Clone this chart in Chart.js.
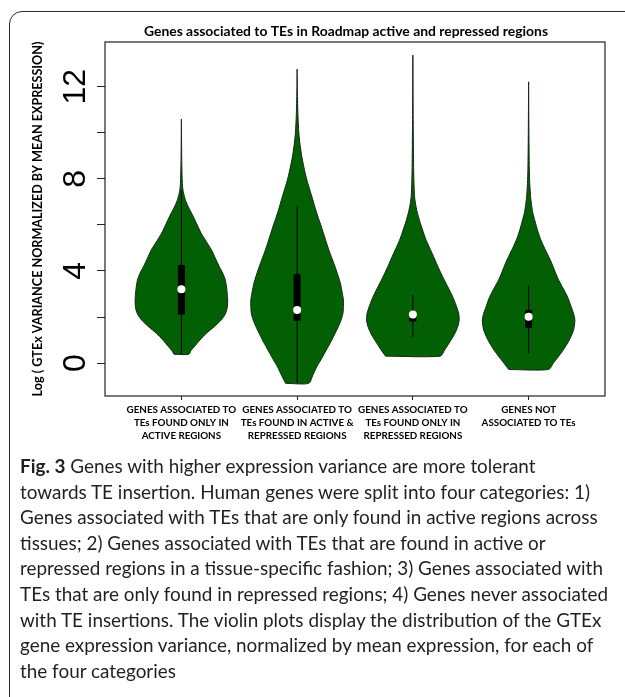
<!DOCTYPE html>
<html>
<head>
<meta charset="utf-8">
<script src="https://cdn.jsdelivr.net/npm/chart.js@4.4.1/dist/chart.umd.min.js"></script>
<style>
  html, body { margin: 0; padding: 0; background: #fff; width: 625px; height: 697px; overflow: hidden; }
  #frame { position: absolute; left: 9px; top: 11px; width: 700px; height: 800px;
           border: 1.6px solid #2b2b2b; border-radius: 13px; }
  #wrap { position: absolute; left: 0; top: 0; width: 625px; height: 455px; }
  #caption { position: absolute; left: 20px; top: 453px; width: 620px;
             font-family: Lato, "Open Sans", sans-serif; font-size: 18.9px; line-height: 25.6px;
             color: #231f20; white-space: nowrap; }
  #caption b { font-weight: bold; }
</style>
</head>
<body>
<div id="frame"></div>
<div id="wrap"><canvas id="chart"></canvas></div>
<div id="caption">
  <div><b>Fig. 3</b> Genes with higher expression variance are more tolerant</div>
  <div>towards TE insertion. Human genes were split into four categories: 1)</div>
  <div>Genes associated with TEs that are only found in active regions across</div>
  <div>tissues; 2) Genes associated with TEs that are found in active or</div>
  <div>repressed regions in a tissue-specific fashion; 3) Genes associated with</div>
  <div>TEs that are only found in repressed regions; 4) Genes never associated</div>
  <div>with TE insertions. The violin plots display the distribution of the GTEx</div>
  <div>gene expression variance, normalized by mean expression, for each of</div>
  <div>the four categories</div>
</div>
<script>
// Category labels (one array of lines per violin)
const categories = [
  ['GENES ASSOCIATED TO', 'TEs FOUND ONLY IN', 'ACTIVE REGIONS'],
  ['GENES ASSOCIATED TO', 'TEs FOUND IN ACTIVE &', 'REPRESSED REGIONS'],
  ['GENES ASSOCIATED TO', 'TEs FOUND ONLY IN', 'REPRESSED REGIONS'],
  ['GENES NOT', 'ASSOCIATED TO TEs']
];

// Kernel density outlines: log variance levels (bottom to top) and relative density
const activeOnlyY       = [0.38, 0.55, 0.71, 1.00, 1.29, 1.58, 1.87, 2.10, 2.30, 2.65, 3.03, 3.30, 3.60, 3.90, 4.18, 4.55, 4.91, 5.27, 5.63, 6.00, 6.35, 6.70, 7.08, 7.45, 7.80, 8.80, 10.59];
const activeOnlyDensity = [0.16, 0.21, 0.28, 0.40, 0.54, 0.71, 0.86, 0.94, 0.98, 1.00, 0.99, 0.975, 0.95, 0.895, 0.82, 0.735, 0.65, 0.54, 0.43, 0.34, 0.26, 0.17, 0.086, 0.04, 0.02, 0.008, 0];

const mixedY       = [-0.88, -0.52, -0.16, 0.13, 0.42, 0.71, 1.00, 1.29, 1.58, 1.87, 2.16, 2.45, 2.74, 3.10, 3.46, 3.82, 4.18, 4.55, 4.91, 5.27, 5.63, 6.00, 6.35, 6.70, 7.08, 7.45, 7.80, 8.15, 8.52, 9.00, 9.50, 9.97, 10.70, 11.42, 12.10, 12.76];
const mixedDensity = [0.25, 0.34, 0.425, 0.51, 0.59, 0.67, 0.75, 0.82, 0.89, 0.95, 0.99, 1.00, 1.00, 0.97, 0.935, 0.88, 0.82, 0.752, 0.685, 0.627, 0.57, 0.51, 0.45, 0.395, 0.34, 0.285, 0.232, 0.185, 0.145, 0.098, 0.062, 0.038, 0.019, 0.009, 0.003, 0];

const repressedOnlyY       = [0.30, 0.58, 0.86, 1.15, 1.43, 1.65, 1.87, 2.16, 2.50, 2.88, 3.25, 3.60, 3.95, 4.33, 4.70, 5.05, 5.40, 5.78, 6.15, 6.50, 6.85, 7.22, 7.90, 8.67, 10.80, 13.37];
const repressedOnlyDensity = [0.59, 0.69, 0.78, 0.87, 0.94, 0.98, 1.00, 0.99, 0.935, 0.86, 0.77, 0.68, 0.595, 0.51, 0.43, 0.35, 0.275, 0.21, 0.15, 0.10, 0.063, 0.037, 0.022, 0.015, 0.006, 0];

const notAssociatedY       = [-0.28, 0.00, 0.27, 0.56, 0.86, 1.15, 1.43, 1.65, 1.87, 2.16, 2.50, 2.88, 3.25, 3.60, 3.95, 4.33, 4.70, 5.05, 5.40, 5.78, 6.15, 6.50, 6.85, 7.22, 7.80, 8.38, 10.20, 12.21];
const notAssociatedDensity = [0.43, 0.535, 0.64, 0.745, 0.84, 0.915, 0.97, 0.99, 1.00, 0.97, 0.91, 0.84, 0.745, 0.65, 0.575, 0.50, 0.415, 0.33, 0.255, 0.19, 0.14, 0.093, 0.065, 0.043, 0.025, 0.015, 0.006, 0];

// Box-plot summaries per category
const whiskerLow  = [0.38, -0.88, 1.12, 0.42];
const quartile1   = [2.11, 1.84, 1.81, 1.53];
const medians     = [3.21, 2.30, 2.11, 2.01];
const quartile3   = [4.26, 3.86, 2.26, 2.30];
const whiskerHigh = [7.50, 6.82, 2.95, 3.39];

// Axis ticks
const yTickMarks  = [0, 2, 4, 6, 8, 10, 12];
const yTickLabels = [0, 4, 8, 12];

const chartTitle = 'Genes associated to TEs in Roadmap active and repressed regions';
const yAxisTitle = 'Log ( GTEx VARIANCE NORMALIZED BY MEAN EXPRESSION)';

const violins = [
  [activeOnlyY, activeOnlyDensity],
  [mixedY, mixedDensity],
  [repressedOnlyY, repressedOnlyDensity],
  [notAssociatedY, notAssociatedDensity]
];

const HALF_WIDTH = 0.4;   // x-units at peak density
const GREEN = '#035f03';

// Closed outline: up the left side, down the right side
function outline(center, ys, dens) {
  const pts = [];
  for (let i = 0; i < ys.length; i++) pts.push({ x: center - dens[i] * HALF_WIDTH, y: ys[i] });
  for (let i = ys.length - 1; i >= 0; i--) pts.push({ x: center + dens[i] * HALF_WIDTH, y: ys[i] });
  pts.push({ x: pts[0].x, y: pts[0].y });
  return pts;
}

const datasets = [];
violins.forEach(([ys, dens], i) => {
  datasets.push({
    data: outline(i + 1, ys, dens),
    showLine: true, fill: 'shape', tension: 0.25,
    backgroundColor: GREEN, borderColor: '#142814', borderWidth: 1,
    pointRadius: 0, order: 4
  });
});
whiskerLow.forEach((lo, i) => {
  datasets.push({
    data: [{ x: i + 1, y: lo }, { x: i + 1, y: whiskerHigh[i] }],
    showLine: true, borderColor: '#000', borderWidth: 1, pointRadius: 0, order: 3
  });
});
quartile1.forEach((q, i) => {
  datasets.push({
    data: [{ x: i + 1, y: q }, { x: i + 1, y: quartile3[i] }],
    showLine: true, borderColor: '#000', borderWidth: 7, borderCapStyle: 'butt',
    pointRadius: 0, order: 2
  });
});
datasets.push({
  data: medians.map((m, i) => ({ x: i + 1, y: m })),
  showLine: false, pointRadius: 4, pointBackgroundColor: '#fff', pointBorderWidth: 0, order: 1
});

// Plot frame, title and rotated y labels
const decorations = {
  id: 'decorations',
  afterDraw(chart) {
    const { ctx, chartArea: a, scales } = chart;
    ctx.save();
    ctx.strokeStyle = '#222';
    ctx.lineWidth = 1.2;
    ctx.strokeRect(a.left, a.top, a.right - a.left, a.bottom - a.top);

    ctx.fillStyle = '#000';
    ctx.font = 'bold 13.9px Lato';
    ctx.textAlign = 'center';
    ctx.textBaseline = 'middle';
    ctx.fillText(chartTitle, 346, 32);

    ctx.font = '32px "Liberation Sans"';
    ctx.textBaseline = 'alphabetic';
    yTickLabels.forEach(v => {
      ctx.save();
      ctx.translate(84.5, scales.y.getPixelForValue(v));
      ctx.rotate(-Math.PI / 2);
      ctx.fillText(String(v), 0, 0);
      ctx.restore();
    });
    ctx.restore();
  }
};

new Chart(document.getElementById('chart'), {
  type: 'scatter',
  data: { datasets },
  options: {
    responsive: true,
    maintainAspectRatio: false,
    animation: false,
    layout: { padding: { left: 0, right: 20, top: 42, bottom: 5 } },
    plugins: { legend: { display: false }, tooltip: { enabled: false }, title: { display: false } },
    scales: {
      x: {
        type: 'linear', min: 0.34, max: 4.66,
        afterBuildTicks: s => { s.ticks = categories.map((c, i) => ({ value: i + 1 })); },
        afterFit: s => { s.height = 54; },
        border: { display: false },
        grid: { drawOnChartArea: false, drawTicks: true, tickLength: 4, color: '#222' },
        ticks: {
          callback: v => categories[v - 1],
          maxRotation: 0, minRotation: 0, autoSkip: false, padding: 3,
          color: '#000', font: { family: 'Lato', weight: 'bold', size: 9.8, lineHeight: 1.36 }
        }
      },
      y: {
        type: 'linear', min: -1.43, max: 13.94,
        afterBuildTicks: s => { s.ticks = yTickMarks.map(v => ({ value: v })); },
        afterFit: s => { s.width = 105; },
        border: { display: false },
        grid: { drawOnChartArea: false, drawTicks: true, tickLength: 8, color: '#222' },
        ticks: { display: false },
        title: {
          display: true, text: yAxisTitle, color: '#000',
          font: { family: 'Lato', weight: 'bold', size: 12.6, lineHeight: 1.2 },
          padding: { top: 30.5, bottom: 0 }
        }
      }
    }
  },
  plugins: [decorations]
});
</script>
</body>
</html>
